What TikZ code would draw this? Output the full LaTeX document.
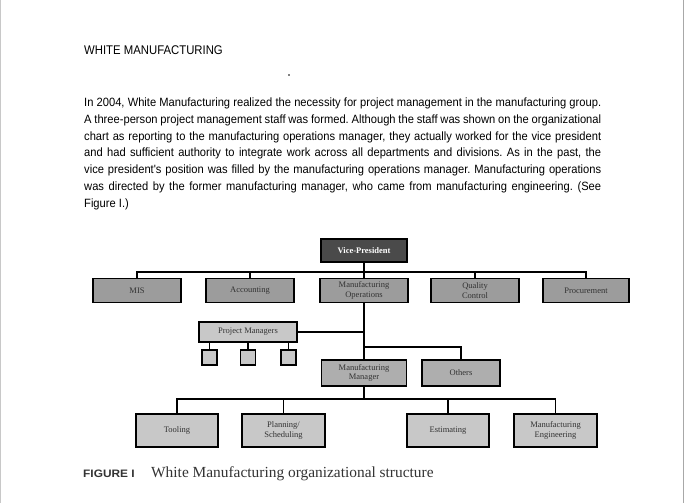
\documentclass[tikz,border=0pt]{standalone}
\usepackage{fontspec}
\setmainfont{Liberation Serif}
\newfontfamily\bodyfont[FakeStretch=0.93]{Liberation Sans}
\newfontfamily\headfont[FakeStretch=0.9]{Liberation Sans}
\newfontfamily\capfont[FakeStretch=1.1]{Liberation Sans}
\usetikzlibrary{positioning}
\definecolor{wmDark}{HTML}{4A4A4A}
\definecolor{wmMid}{HTML}{9C9C9C}
\definecolor{wmLight}{HTML}{AEAEAE}
\definecolor{wmPale}{HTML}{C8C8C8}
\definecolor{wmText}{HTML}{333333}
\definecolor{wmEdge}{HTML}{A8A8A8}
\frenchspacing
\tikzset{
  orgbox/.style   = {draw=black, line width=1.2pt, fill=wmMid, text=wmText,
                     font=\fontsize{8.5}{9.5}\selectfont, align=center,
                     inner sep=0pt, minimum height=24pt},
  topbox/.style   = {orgbox, fill=wmDark, text=white, font=\fontsize{8.5}{9.5}\selectfont\bfseries},
  midbox/.style   = {orgbox, fill=wmLight},
  palebox/.style  = {orgbox, fill=wmPale},
  staffbox/.style = {draw=black, line width=1.2pt, fill=wmPale,
                     minimum size=15pt, inner sep=0pt},
  link/.style     = {line width=1.2pt, black},
  bodyline/.style = {font=\bodyfont\fontsize{12}{16.8}\selectfont},
}

\begin{document}
\begin{tikzpicture}[x=1pt, y=-1pt]
  \useasboundingbox (0,0) rectangle (685,503);
  \fill[white] (0,0) rectangle (685,503);
  \draw[wmPale, line width=1pt] (0.5,0) -- (0.5,503);
  \draw[wmEdge, line width=1.5pt] (683.5,0) -- (683.5,503);

  % heading and text
  \node[anchor=base west, inner sep=0pt] (title) at (84,54.5)
    {\headfont\fontsize{12.6}{14}\selectfont WHITE MANUFACTURING};
  \fill (289,75) circle (0.8);
  \node[bodyline, anchor=base west, inner sep=0pt] (story) at (84,106.5) {%
    \parbox[t]{517pt}{\baselineskip=16.8pt
    \makebox[517pt][s]{In 2004, White Manufacturing realized the necessity for project management in the manufacturing group.}\\
    \makebox[517pt][s]{A three-person project management staff was formed. Although the staff was shown on the organizational}\\
    \makebox[517pt][s]{chart as reporting to the manufacturing operations manager, they actually worked for the vice president}\\
    \makebox[517pt][s]{and had sufficient authority to integrate work across all departments and divisions. As in the past, the}\\
    \makebox[517pt][s]{vice president's position was filled by the manufacturing operations manager. Manufacturing operations}\\
    \makebox[517pt][s]{was directed by the former manufacturing manager, who came from manufacturing engineering. (See}\\
    Figure I.)}};

  % top of the chart
  \node[topbox, minimum width=86pt, minimum height=23pt] (vp) at (364,250.5) {Vice-President};
  \node[orgbox, minimum width=88pt] (mis)  at (137,290.5) {MIS};
  \node[orgbox, minimum width=88pt] (acc)  at (250,290.5) {Accounting};
  \node[orgbox, minimum width=88pt] (mops) at (364,290.5) {Manufacturing\\Operations};
  \node[orgbox, minimum width=88pt] (qc)   at (475,290.5) {Quality\\Control};
  \node[orgbox, minimum width=86pt] (proc) at (586,290.5) {Procurement};

  \coordinate (topbus) at (364,272);
  \draw[link] (mis.north) |- (topbus) -| (proc.north);
  \draw[link] (vp.south) -- (mops.north);
  \draw[link] (acc.north) -- (acc.north |- topbus);
  \draw[link] (qc.north) -- (qc.north |- topbus);

  % project staff
  \node[palebox, minimum width=98pt, minimum height=20pt] (pm) at (248,332) {Project Managers};
  \node[staffbox] (pm1) at (209.5,357.5) {};
  \node[staffbox] (pm2) at (248,357.5) {};
  \node[staffbox] (pm3) at (288.5,357.5) {};
  \foreach \s in {pm1,pm2,pm3}
    \draw[link] (\s.north) -- (\s.north |- pm.south);

  % middle level
  \node[midbox, minimum width=85pt, minimum height=26pt] (mm)  at (364,373) {Manufacturing\\Manager};
  \node[midbox, minimum width=78pt, minimum height=26pt] (oth) at (461,373) {Others};
  \draw[link] (mops.south) -- (mm.north);
  \draw[link] (pm.east) -- (pm.east -| mops.south);
  \coordinate (midbus) at (364,347);
  \draw[link] (midbus) -| (oth.north);

  % bottom level
  \node[palebox, minimum width=82pt, minimum height=33pt] (tool) at (177,430.5) {Tooling};
  \node[palebox, minimum width=83pt, minimum height=33pt] (plan) at (283.5,430.5) {Planning/\\Scheduling};
  \node[palebox, minimum width=82pt, minimum height=33pt] (est)  at (448,430.5) {Estimating};
  \node[palebox, minimum width=83pt, minimum height=33pt] (meng) at (555.5,430.5) {Manufacturing\\Engineering};

  \coordinate (lowbus) at (364,399);
  \draw[link] (mm.south) -- (lowbus);
  \draw[link] (tool.north) |- (lowbus) -| (meng.north);
  \draw[link] (plan.north) -- (plan.north |- lowbus);
  \draw[link] (est.north) -- (est.north |- lowbus);

  % caption
  \node[anchor=base west, inner sep=0pt, text=wmText] (figno) at (83,477)
    {\capfont\bfseries\fontsize{10.8}{12}\selectfont FIGURE I};
  \node[anchor=base west, inner sep=0pt, text=wmText] (figtxt) at (151,477)
    {\fontsize{15.4}{17}\selectfont White Manufacturing organizational structure};
\end{tikzpicture}
\end{document}
